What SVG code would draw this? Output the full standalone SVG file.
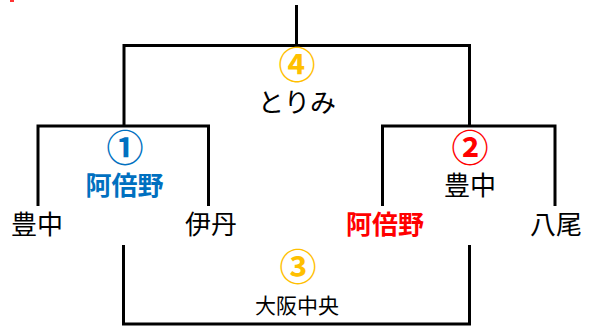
<svg xmlns="http://www.w3.org/2000/svg" width="589" height="326" viewBox="0 0 589 326">
<style>
.ln{fill:none;stroke:#000;stroke-width:3;stroke-linecap:butt;stroke-linejoin:miter}
text{font-family:"Noto Sans CJK JP","Noto Sans",sans-serif;text-anchor:middle}
.team{font-size:26px;fill:#000}
.num{font-size:37px;font-weight:bold}
.y{fill:#FFC000}
.b{fill:#0070C0}
.r{fill:#FF0000}
.bold{font-weight:bold}
</style>
<rect x="10" y="0" width="4" height="2" fill="#FF0000" opacity="0.8"/>
<g id="connectors">
<path class="ln" d="M296.5,5 V45.5"/>
<path class="ln" d="M124,125 V45.5 H469.5 V125"/>
<path class="ln" d="M38,206 V126 H208.5 V206"/>
<path class="ln" d="M382.5,206 V126 H555 V206"/>
<path class="ln" d="M123.5,245 V324 H469.5 V245"/>
</g>
<g id="final">
<text class="num y" x="297" y="78.5">④</text>
<text class="team" x="297" y="112" font-size="25">とりみ</text>
</g>
<g id="match1">
<text class="num b" x="125" y="162">①</text>
<text class="team b bold" x="124.5" y="195">阿倍野</text>
</g>
<g id="match2">
<text class="num r" x="470" y="162">②</text>
<text class="team" x="470" y="195">豊中</text>
</g>
<g id="team-toyonaka"><text class="team" x="37" y="234">豊中</text></g>
<g id="team-itami"><text class="team" x="211" y="234">伊丹</text></g>
<g id="team-abeno"><text class="team r bold" x="385" y="234">阿倍野</text></g>
<g id="team-yao"><text class="team" x="556" y="234">八尾</text></g>
<g id="match3">
<text class="num y" x="298" y="281">③</text>
<text x="297" y="313" font-size="21" fill="#000">大阪中央</text>
</g>
</svg>
